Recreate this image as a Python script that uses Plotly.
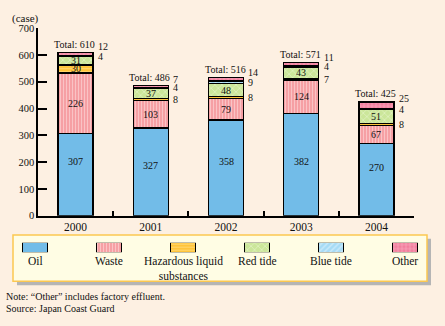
import plotly.graph_objects as go

# ---------------- data ----------------
years = ["2000", "2001", "2002", "2003", "2004"]
oil = [307, 327, 358, 382, 270]
waste = [226, 103, 79, 124, 67]
hazardous = [30, 8, 8, 7, 8]
red_tide = [31, 37, 48, 43, 51]
blue_tide = [4, 4, 9, 4, 4]
other = [12, 7, 14, 11, 25]
series_names = ["Oil", "Waste", "Hazardous liquid<br>substances", "Red tide", "Blue tide", "Other"]
y_ticks = [0, 100, 200, 300, 400, 500, 600, 700]

# ---------------- styles ----------------
W, H = 445, 326
BG = "#fdf0e2"
FONT = "Liberation Serif"
TXT = "#111111"
styles = [
    dict(color="#72bce8", pattern=dict(shape="")),
    dict(color="#f6a0a4", pattern=dict(shape="|", bgcolor="#f6a0a4", fgcolor="#fde6e6", size=3, solidity=0.35)),
    dict(color="#ffc43a", pattern=dict(shape="-", bgcolor="#ffc43a", fgcolor="#ffe9a8", size=3, solidity=0.35)),
    dict(color="#cbe69a", pattern=dict(shape="x", bgcolor="#cbe69a", fgcolor="#f2f9e0", size=5, solidity=0.3)),
    dict(color="#a6dbf5", pattern=dict(shape="/", bgcolor="#a6dbf5", fgcolor="#f0faff", size=4, solidity=0.35)),
    dict(color="#f2809e", pattern=dict(shape="+", bgcolor="#f2809e", fgcolor="#ffd6e0", size=4, solidity=0.3)),
]
series = [oil, waste, hazardous, red_tide, blue_tide, other]
inside_series = {0, 1, 3}             # always labelled inside the bar
bar_w = 0.465
oil_label_shift = [13, 6, 6, 3, 12]   # px upward offsets for oil value labels
small_shift = {2: 0, 4: 0, 5: 7}      # px upward offsets for outside small labels


def px_x(x):
    return x / W


def px_y(y):
    return 1 - y / H


fig = go.Figure()

for s, vals in enumerate(series):
    st = styles[s]
    marker = dict(color=st["color"], line=dict(color="black", width=1.5))
    if st["pattern"]["shape"]:
        marker["pattern"] = st["pattern"]
    fig.add_trace(go.Bar(x=list(range(len(years))), y=vals, width=bar_w, marker=marker,
                         showlegend=False, hoverinfo="skip", xaxis="x", yaxis="y"))
    # legend swatch on the legend axes
    lm = dict(color=st["color"], line=dict(color="black", width=1))
    if st["pattern"]["shape"]:
        lm["pattern"] = st["pattern"]
    fig.add_trace(go.Bar(x=[s], y=[1], width=25 / 74, marker=lm,
                         showlegend=False, hoverinfo="skip", xaxis="x2", yaxis="y2"))

lab_font = dict(family=FONT, size=10, color=TXT)
annotations = []
for i, yr in enumerate(years):
    cum = 0
    for s, vals in enumerate(series):
        v = vals[i]
        mid = cum + v / 2
        cum += v
        if s == 0:
            annotations.append(dict(x=i, y=mid, text=str(v), showarrow=False, xref="x", yref="y",
                                    xanchor="center", yanchor="middle", borderpad=0,
                                    yshift=oil_label_shift[i], font=lab_font))
        elif s in inside_series or (s == 2 and v >= 20):
            annotations.append(dict(x=i, y=mid, text=str(v), showarrow=False, xref="x", yref="y",
                                    xanchor="center", yanchor="middle", borderpad=0, font=lab_font))
        else:
            annotations.append(dict(x=i + bar_w / 2, y=mid, text=str(v), showarrow=False,
                                    xref="x", yref="y", xanchor="left", yanchor="middle", xshift=4,
                                    borderpad=0, yshift=small_shift.get(s, 0), font=lab_font))
    annotations.append(dict(x=i, y=cum, text=f"Total: {cum}", showarrow=False, xref="x", yref="y",
                            xanchor="center", yanchor="middle", yshift=8, xshift=-1, borderpad=0,
                            font=lab_font))

# legend labels
for s, name in enumerate(series_names):
    annotations.append(dict(x=s, y=px_y(257), xref="x2", yref="paper", xanchor="center", yanchor="top",
                            text=name, showarrow=False,
                            font=dict(family=FONT, size=11.5, color=TXT)))

annotations += [
    dict(x=px_x(25), y=px_y(14), xref="paper", yref="paper", xanchor="center", yanchor="middle",
         text="(case)", showarrow=False, font=dict(family=FONT, size=11, color=TXT)),
    dict(x=px_x(4), y=px_y(302), xref="paper", yref="paper", xanchor="left", yanchor="middle",
         text="Note: \u201cOther\u201d includes factory effluent.", showarrow=False,
         font=dict(family=FONT, size=10, color=TXT)),
    dict(x=px_x(4), y=px_y(314), xref="paper", yref="paper", xanchor="left", yanchor="middle",
         text="Source: Japan Coast Guard", showarrow=False,
         font=dict(family=FONT, size=10, color=TXT)),
]

shapes = [
    dict(type="rect", xref="paper", yref="paper", x0=px_x(17), x1=px_x(431), y0=px_y(290), y1=px_y(242),
         fillcolor="#b5b5b5", line=dict(width=0), layer="below"),
    dict(type="rect", xref="paper", yref="paper", x0=px_x(13), x1=px_x(427), y0=px_y(286), y1=px_y(238),
         fillcolor="#fffde4", line=dict(color="#fcc850", width=1.5), layer="below"),
]

fig.update_layout(
    width=W, height=H,
    margin=dict(l=0, r=0, t=0, b=0),
    paper_bgcolor=BG, plot_bgcolor="rgba(0,0,0,0)",
    barmode="stack",
    font=dict(family=FONT, color=TXT),
    annotations=annotations,
    shapes=shapes,
    xaxis=dict(domain=[px_x(38), px_x(414)], range=[-0.5, 4.5], tickvals=list(range(len(years))),
               ticktext=years, showline=True, linecolor="black", linewidth=1.5,
               showgrid=False, zeroline=False, anchor="y", ticks="",
               tickfont=dict(family=FONT, size=11.5, color=TXT)),
    xaxis3=dict(domain=[px_x(38), px_x(414)], range=[-0.5, 4.5], overlaying="x", anchor="y",
                tickvals=[0.5, 1.5, 2.5, 3.5, 4.5], showticklabels=False, ticks="inside",
                ticklen=5, tickcolor="black", tickwidth=1.5, showgrid=False, zeroline=False,
                showline=False),
    yaxis=dict(domain=[px_y(218), px_y(24)], range=[0, 700], tickvals=y_ticks, showline=True,
               linecolor="black", linewidth=1.5, ticks="inside", ticklen=9, tickcolor="black",
               tickwidth=1.5, showgrid=False, zeroline=False, anchor="x",
               tickfont=dict(family=FONT, size=10.5, color=TXT)),
    xaxis2=dict(domain=[0, px_x(440)], range=[-35 / 74, 5 + 35 / 74], visible=False, anchor="y2",
                fixedrange=True),
    yaxis2=dict(domain=[px_y(256), px_y(246)], range=[0, 1], visible=False, anchor="x2",
                fixedrange=True),
)
# invisible helper trace so the boundary-tick axis is drawn
fig.add_trace(go.Scatter(x=[0], y=[0], xaxis="x3", yaxis="y", mode="markers",
                         marker=dict(opacity=0), showlegend=False, hoverinfo="skip"))

fig.write_html("out.html")
